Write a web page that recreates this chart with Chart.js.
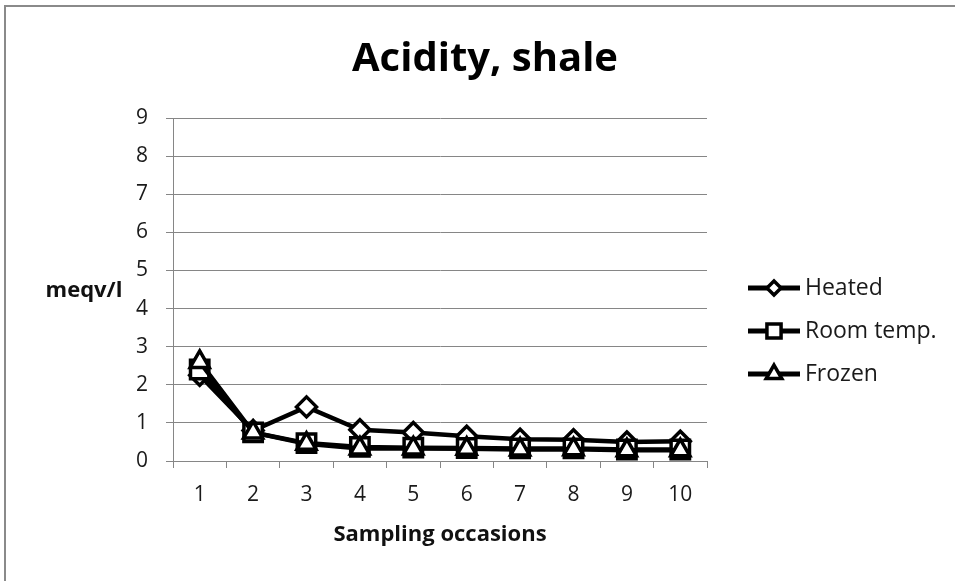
<!DOCTYPE html>
<html>
<head>
<meta charset="utf-8">
<title>Acidity, shale</title>
<script src="https://cdn.jsdelivr.net/npm/chart.js@4.4.0/dist/chart.umd.min.js"></script>
<style>
  html, body { margin: 0; padding: 0; background: #fff; }
  #wrap { width: 955px; height: 581px; }
</style>
</head>
<body>
<div id="wrap"><canvas id="acidity" width="955" height="581"></canvas></div>
<script>
// sampling occasions and acidity (meqv/l) per storage treatment
var occasions = ["1", "2", "3", "4", "5", "6", "7", "8", "9", "10"];
var heated = [2.25, 0.8, 1.42, 0.82, 0.75, 0.65, 0.57, 0.56, 0.5, 0.52];
var roomTemp = [2.4, 0.75, 0.47, 0.37, 0.35, 0.34, 0.33, 0.33, 0.3, 0.3];
var frozen = [2.6, 0.75, 0.45, 0.33, 0.33, 0.32, 0.3, 0.31, 0.28, 0.28];
var yTicks = [0, 1, 2, 3, 4, 5, 6, 7, 8, 9];

var fontFamily = "'Open Sans', sans-serif";
var gridColor = "#868686";

// outer frame, title, y axis caption and the line+marker legend
var decorations = {
    id: "decorations",
    beforeDraw: function (chart) {
        var c = chart.ctx;
        c.save();
        c.fillStyle = "#fff";
        c.fillRect(0, 0, chart.width, chart.height);
        c.strokeStyle = "#8a8a8a";
        c.lineWidth = 2;
        c.beginPath();
        c.moveTo(5, chart.height);
        c.lineTo(5, 6);
        c.lineTo(chart.width, 6);
        c.stroke();
        c.restore();
    },
    afterDraw: function (chart) {
        var c = chart.ctx;
        c.save();
        c.fillStyle = "#000";
        c.font = "bold 40px " + fontFamily;
        c.textAlign = "center";
        c.textBaseline = "middle";
        c.fillText("Acidity, shale", 485, 60);

        c.fillStyle = "#111";
        c.font = "bold 22px " + fontFamily;
        c.fillText("meqv/l", 84, 291);

        var rows = [288, 331, 374];
        chart.data.datasets.forEach(function (ds, i) {
            var y = rows[i];
            c.strokeStyle = "#000";
            c.lineWidth = 5;
            c.beginPath();
            c.moveTo(748, y);
            c.lineTo(800, y);
            c.stroke();
            c.fillStyle = "#fff";
            c.lineWidth = 3.5;
            Chart.helpers.drawPoint(c, {
                pointStyle: ds.pointStyle,
                radius: ds.legendRadius,
                borderWidth: 3.5,
                rotation: 0
            }, 774, y);
            c.fillStyle = "#1a1a1a";
            c.font = "23px " + fontFamily;
            c.textAlign = "left";
            c.textBaseline = "middle";
            c.fillText(ds.label, 805, y);
        });
        c.restore();
    }
};

function series(label, values, style, radius, legendRadius, order) {
    return {
        label: label,
        data: values,
        order: order,
        borderColor: "#000",
        borderWidth: 4.5,
        pointStyle: style,
        pointRadius: radius,
        pointHoverRadius: radius,
        pointBorderWidth: 3.5,
        pointBackgroundColor: "#fff",
        pointBorderColor: "#000",
        legendRadius: legendRadius,
        tension: 0,
        fill: false
    };
}

var ctx = document.getElementById("acidity").getContext("2d");

new Chart(ctx, {
    type: "line",
    data: {
        labels: occasions,
        datasets: [
            series("Heated", heated, "rectRot", 10, 7, 2),
            series("Room temp.", roomTemp, "rect", 13, 10, 1),
            series("Frozen", frozen, "triangle", 11, 9, 0)
        ]
    },
    options: {
        responsive: false,
        animation: false,
        layout: {
            padding: { left: 0, right: 248, top: 118, bottom: 0 }
        },
        plugins: {
            legend: { display: false },
            tooltip: { enabled: false },
            title: { display: false }
        },
        scales: {
            y: {
                min: 0,
                max: 9,
                afterFit: function (scale) { scale.width = 173; },
                afterBuildTicks: function (scale) {
                    scale.ticks = yTicks.map(function (v) { return { value: v }; });
                },
                border: { display: true, color: gridColor, width: 1 },
                grid: {
                    color: gridColor,
                    lineWidth: 1,
                    drawTicks: true,
                    tickLength: 7
                },
                ticks: {
                    padding: 18,
                    color: "#1a1a1a",
                    font: { family: fontFamily, size: 21 }
                }
            },
            x: {
                offset: true,
                afterFit: function (scale) { scale.height = 120; },
                border: { display: true, color: gridColor, width: 1 },
                grid: {
                    offset: true,
                    color: gridColor,
                    drawOnChartArea: false,
                    drawTicks: true,
                    tickLength: 7
                },
                ticks: {
                    padding: 14,
                    maxRotation: 0,
                    color: "#1a1a1a",
                    font: { family: fontFamily, size: 21 }
                },
                title: {
                    display: true,
                    text: "Sampling occasions",
                    color: "#111",
                    font: { family: fontFamily, size: 22, weight: "bold" },
                    padding: { top: 0, bottom: 33 }
                }
            }
        }
    },
    plugins: [decorations]
});
</script>
</body>
</html>
